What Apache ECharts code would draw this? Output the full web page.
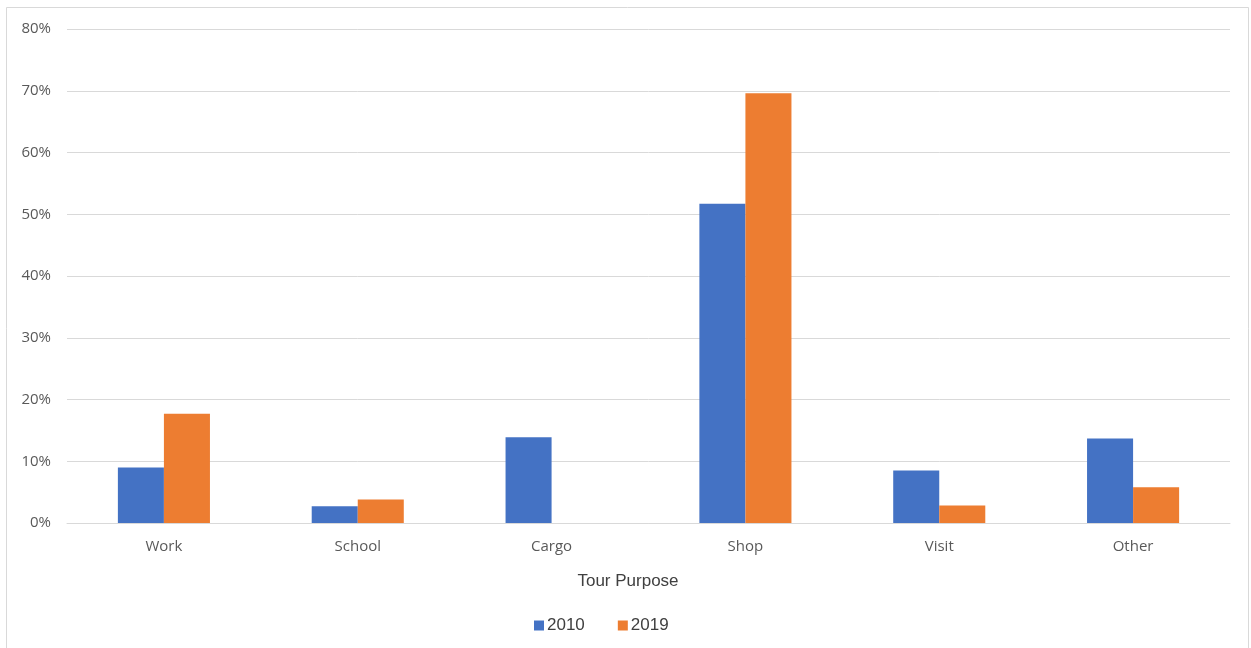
<!DOCTYPE html>
<html>
<head>
<meta charset="utf-8">
<script src="https://cdn.jsdelivr.net/npm/echarts@6/dist/echarts.min.js"></script>
<style>
  html, body { margin: 0; padding: 0; background: #ffffff; }
  #chart { width: 1251px; height: 648px; }
</style>
</head>
<body>
<div id="chart"></div>
<script>
// Share of tours by purpose, in percent
const categories = ['Work', 'School', 'Cargo', 'Shop', 'Visit', 'Other'];
const values2010 = [9.0, 2.7, 13.9, 51.7, 8.5, 13.7];
const values2019 = [17.7, 3.8, 0, 69.6, 2.85, 5.8];
const seriesNames = ['2010', '2019'];
const axisTitle = 'Tour Purpose';

const labelFont = '"Open Sans", "Noto Sans", sans-serif';
const titleFont = 'Arial, "Liberation Sans", sans-serif';
const chart = echarts.init(document.getElementById('chart'), null, { renderer: 'canvas' });

chart.setOption({
  animation: false,
  backgroundColor: '#ffffff',
  color: ['#4472C4', '#ED7D31'],
  graphic: [
    {
      type: 'rect',
      shape: { x: 6.5, y: 7.5, width: 1242, height: 660 },
      style: { fill: 'none', stroke: '#d9d9d9', lineWidth: 1 },
      silent: true
    },
    {
      type: 'text',
      x: 628,
      y: 581,
      style: {
        text: axisTitle,
        fill: '#404040',
        font: '17px ' + titleFont,
        textAlign: 'center',
        textVerticalAlign: 'middle'
      },
      silent: true
    }
  ],
  grid: { left: 67, right: 21, top: 29, bottom: 125 },
  legend: {
    data: seriesNames,
    top: 612,
    left: 529,
    itemWidth: 10,
    itemHeight: 10,
    itemGap: 33,
    icon: 'rect',
    textStyle: { color: '#404040', fontSize: 17, fontFamily: titleFont, padding: [0, 0, 0, -2] }
  },
  xAxis: {
    type: 'category',
    data: categories,
    axisLine: { show: true, lineStyle: { color: '#d9d9d9', width: 1 } },
    axisTick: { show: false },
    axisLabel: { color: '#595959', fontSize: 15, margin: 16, fontFamily: labelFont }
  },
  yAxis: {
    type: 'value',
    min: 0,
    max: 80,
    interval: 10,
    axisLine: { show: false },
    axisTick: { show: false },
    splitLine: { lineStyle: { color: '#d9d9d9', width: 1 } },
    axisLabel: {
      color: '#595959',
      fontSize: 15,
      margin: 16,
      fontFamily: labelFont,
      formatter: v => v + '%'
    }
  },
  series: [
    {
      name: seriesNames[0],
      type: 'bar',
      data: values2010,
      barGap: '0%',
      barCategoryGap: '52.5%'
    },
    {
      name: seriesNames[1],
      type: 'bar',
      data: values2019,
      barGap: '0%',
      barCategoryGap: '52.5%'
    }
  ]
});
</script>
</body>
</html>
